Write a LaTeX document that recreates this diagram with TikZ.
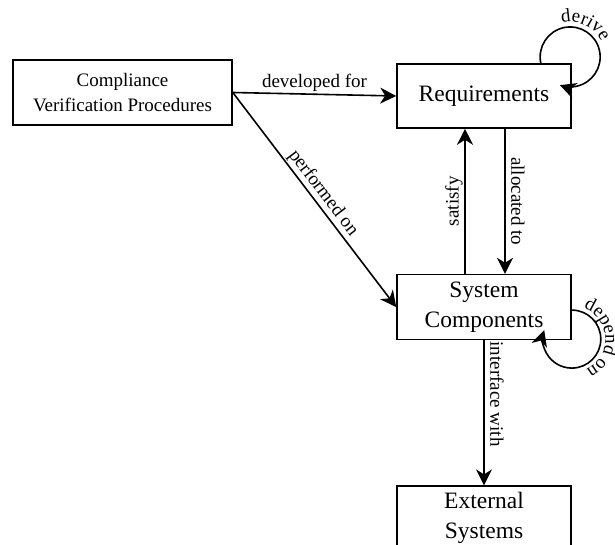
\documentclass[tikz,border=0pt]{standalone}
\usepackage{fontspec}
\setmainfont{Liberation Serif}
\usepackage{tikz}
\usetikzlibrary{positioning,arrows.meta,decorations.text}

\newcommand{\boxfont}{\fontsize{23.5}{30}\selectfont}
\newcommand{\cvpfont}{\fontsize{19}{25}\selectfont}
\newcommand{\lblfont}{\fontsize{19}{22}\selectfont}

\begin{document}
\begin{tikzpicture} [x=1pt, y=1pt, line width=1.6pt,
  >={Stealth[length=16pt,width=16pt,inset=5pt]}]

\tikzstyle{block}=[draw, align=center, minimum width=174pt, minimum height=64pt, font=\boxfont]
\tikzstyle{lbl}=[font=\lblfont, inner sep=3pt, text depth=.25em]
\useasboundingbox (0,0) rectangle (615,545);

\node [block, minimum width=219pt, minimum height=65pt, font=\cvpfont] (cvp) at (122.5,452.5)
  {Compliance\\Verification Procedures};
\node [block] (req) at (484,449) {Requirements};
\node [block, minimum height=65pt, below=145pt of req] (sc) {System\\Components};
\node [block, below=145pt of sc] (ext) {External\\Systems};

\draw [->] (cvp.east) -- node [lbl, above] {developed for} (req.west);
\draw [->] (cvp.east) -- node [lbl, sloped, above] {performed on} (sc.west);
\draw [->] ([xshift=-19pt]sc.north) -- node [lbl, rotate=90, anchor=south] {satisfy} ([xshift=-19pt]req.south);
\draw [->] ([xshift=21pt]req.south) -- node [lbl, rotate=-90, anchor=south] {allocated to} ([xshift=21pt]sc.north);
\draw [->] (sc.south) -- node [lbl, rotate=-90, anchor=south, pos=.37] {interface with} (ext.north);

% self loops
\draw [->] ([xshift=-31pt]req.north east) arc [start angle=192, end angle=-110, radius=30];
\draw [->] ([yshift=-3pt]sc.east) arc [start angle=90, end angle=-198, radius=29];
\coordinate (dc) at ([shift={(-1.7,6.2)}]req.north east);
\coordinate (sc-loop) at ([yshift=-32.5pt]sc.east);
\path [decorate, decoration={text along path, text align=center, text={|\lblfont|derive}}]
  ([shift={(110:35)}]dc) arc [start angle=110, end angle=20, radius=35];
\path [decorate, decoration={text along path, text align=center, text={|\lblfont|depend on}}]
  ([shift={(75:33.5)}]sc-loop) arc [start angle=75, end angle=-70, radius=33.5];
\end{tikzpicture}
\end{document}
